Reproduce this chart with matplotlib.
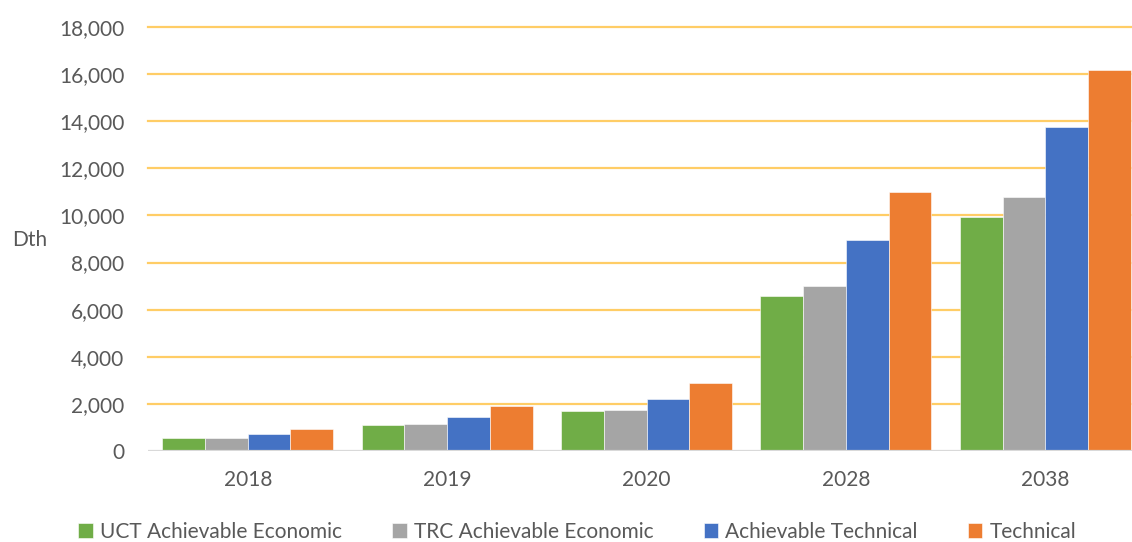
import matplotlib
matplotlib.use('Agg')
import matplotlib.pyplot as plt
import numpy as np

# data (Dth)
years = ['2018', '2019', '2020', '2028', '2038']
uct_economic = [560, 1125, 1690, 6570, 9950]
trc_economic = [565, 1130, 1720, 7005, 10790]
achievable_technical = [730, 1450, 2200, 8950, 13735]
technical = [940, 1930, 2895, 11015, 16180]

series = [
    ('UCT Achievable Economic', uct_economic, '#70AD47'),
    ('TRC Achievable Economic', trc_economic, '#A5A5A5'),
    ('Achievable Technical', achievable_technical, '#4472C4'),
    ('Technical', technical, '#ED7D31'),
]

plt.rcParams['font.family'] = ['Lato', 'DejaVu Sans']
text_color = '#595959'
fs = 15

fig = plt.figure(figsize=(11.32, 5.42), dpi=100)
ax = fig.add_axes([148 / 1132, 91 / 542, 997 / 1132, 424 / 542])

x = np.arange(len(years))
width = 0.857 / 4

for i, (name, values, color) in enumerate(series):
    offset = (i - 1.5) * width
    ax.bar(x + offset, values, width, color=color, label=name,
           edgecolor='white', linewidth=0.4, zorder=3)

ax.set_xlim(-0.5, len(years) - 0.5)
ax.set_ylim(0, 18000)
ax.set_yticks(np.arange(0, 18001, 2000))
ax.set_yticklabels([f'{v:,}' for v in range(0, 18001, 2000)])
ax.set_xticks(x)
ax.set_xticklabels(years)

# gridlines
for v in range(2000, 18001, 2000):
    ax.axhline(v, color='#FFCD66', linewidth=1.6, zorder=1, clip_on=False)
ax.axhline(0, color='#D9D9D9', linewidth=1.6, zorder=4)

for spine in ax.spines.values():
    spine.set_visible(False)
ax.tick_params(axis='both', length=0, colors=text_color, labelsize=fs)
ax.tick_params(axis='y', pad=17)
ax.tick_params(axis='x', pad=14)

fig.text(12 / 1132, 1 - 240 / 542, 'Dth', color=text_color, fontsize=fs,
         va='center', ha='left')

leg = fig.legend(loc='lower center', bbox_to_anchor=(0.51, -0.026), ncol=4,
                 frameon=False, fontsize=fs, handlelength=0.7,
                 handleheight=0.7, handletextpad=0.35, columnspacing=2.4,
                 borderpad=0.2)
for t in leg.get_texts():
    t.set_color(text_color)

fig.savefig('out.png', dpi=100)
